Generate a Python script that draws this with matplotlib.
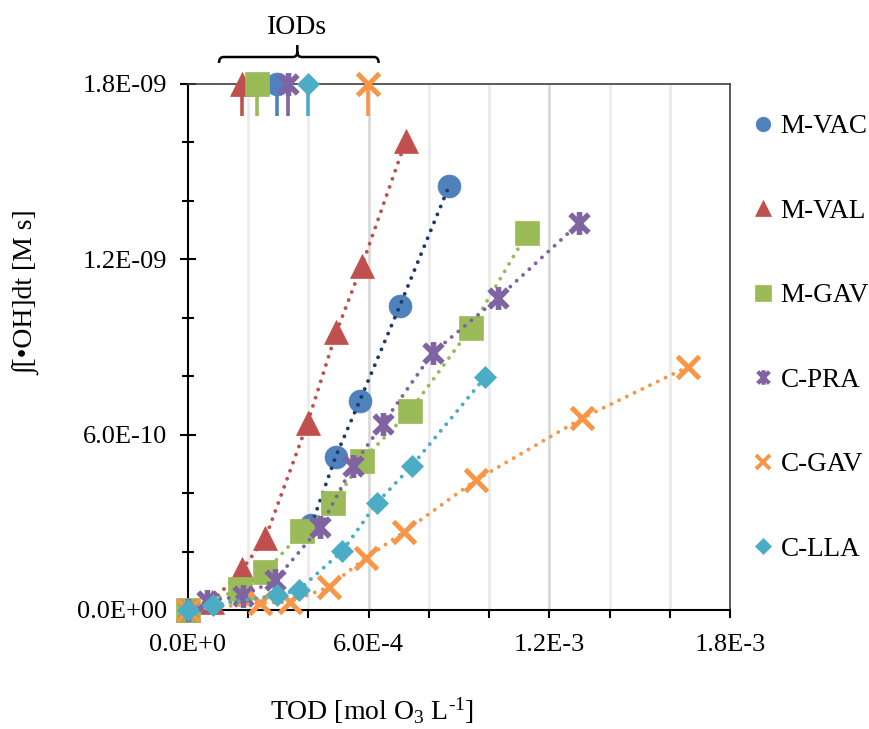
import matplotlib
matplotlib.use("Agg")
import matplotlib.pyplot as plt
from matplotlib.path import Path
from matplotlib.patches import PathPatch
from matplotlib.lines import Line2D
import matplotlib.transforms as mtransforms

plt.rcParams['font.family'] = ['Liberation Serif', 'DejaVu Serif']
plt.rcParams['mathtext.fontset'] = 'custom'
plt.rcParams['mathtext.rm'] = 'Liberation Serif'
plt.rcParams['mathtext.it'] = 'Liberation Serif:italic'

# ---------------- data ----------------
series_names = ["M-VAC", "M-VAL", "M-GAV", "C-PRA", "C-GAV", "C-LLA"]

mvac_x = [4.10e-4, 4.90e-4, 5.70e-4, 7.03e-4, 8.67e-4]
mvac_y = [2.91e-10, 5.24e-10, 7.15e-10, 1.040e-9, 1.451e-9]

mval_x = [0.0, 8.0e-5, 1.80e-4, 2.57e-4, 3.97e-4, 4.93e-4, 5.77e-4, 7.23e-4]
mval_y = [0.0, 2.7e-11, 1.40e-10, 2.46e-10, 6.40e-10, 9.52e-10, 1.177e-9, 1.605e-9]

mgav_x = [0.0, 1.73e-4, 2.57e-4, 3.80e-4, 4.83e-4, 5.77e-4, 7.37e-4, 9.40e-4, 1.127e-3]
mgav_y = [0.0, 7.2e-11, 1.30e-10, 2.70e-10, 3.66e-10, 5.10e-10, 6.81e-10, 9.65e-10, 1.29e-9]

cpra_x = [0.0, 6.3e-5, 1.83e-4, 2.90e-4, 4.40e-4, 5.47e-4, 6.47e-4, 8.13e-4, 1.03e-3, 1.30e-3]
cpra_y = [0.0, 3.1e-11, 4.8e-11, 1.03e-10, 2.84e-10, 4.93e-10, 6.37e-10, 8.80e-10, 1.068e-9, 1.325e-9]

cgav_x = [0.0, 2.40e-4, 3.40e-4, 4.67e-4, 5.90e-4, 7.17e-4, 9.57e-4, 1.31e-3, 1.66e-3]
cgav_y = [0.0, 2.4e-11, 2.7e-11, 7.9e-11, 1.78e-10, 2.67e-10, 4.45e-10, 6.57e-10, 8.32e-10]

clla_x = [0.0, 8.3e-5, 2.97e-4, 3.67e-4, 5.13e-4, 6.27e-4, 7.43e-4, 9.87e-4]
clla_y = [0.0, 1.7e-11, 5.1e-11, 6.8e-11, 2.02e-10, 3.66e-10, 4.93e-10, 7.97e-10]

# IOD values (TOD at which each series' IOD is reached)
iod_x = [2.97e-4, 1.80e-4, 2.30e-4, 3.33e-4, 5.97e-4, 3.97e-4]
iod_level = 1.8e-9
iod_stem_bottom = 1.69e-9

x_ticks = [0.0, 6.0e-4, 1.2e-3, 1.8e-3]
x_ticklabels = ["0.0E+0", "6.0E-4", "1.2E-3", "1.8E-3"]
y_ticks = [0.0, 6.0e-10, 1.2e-9, 1.8e-9]
y_ticklabels = ["0.0E+00", "6.0E-10", "1.2E-09", "1.8E-09"]

# ---------------- styles ----------------
star_path = Path([(-0.5, -0.5), (0.5, 0.5), (-0.5, 0.5), (0.5, -0.5), (0, -0.62), (0, 0.62)],
                 [Path.MOVETO, Path.LINETO, Path.MOVETO, Path.LINETO, Path.MOVETO, Path.LINETO])

colors = ["#4F81BD", "#C0504D", "#9BBB59", "#8064A2", "#F79646", "#4BACC6"]
line_colors = ["#1F3A66", "#C0504D", "#9BBB59", "#8064A2", "#F79646", "#4BACC6"]
markers = ["o", "^", "s", star_path, "x", "D"]
msizes = [16.5, 17, 17, 16.5, 15.5, 11.5]
mews = [0, 0, 0, 4.0, 3.6, 0]
leg_sizes = [10.5, 11, 11, 10.5, 10, 8]
leg_mews = [0, 0, 0, 3.0, 2.8, 0]

xs = [mvac_x, mval_x, mgav_x, cpra_x, cgav_x, clla_x]
ys = [mvac_y, mval_y, mgav_y, cpra_y, cgav_y, clla_y]

fig = plt.figure(figsize=(8.7, 7.29), dpi=100)
ax = fig.add_axes([188 / 870, 1 - 610 / 729, (730 - 188) / 870, (610 - 84) / 729])

ax.set_xlim(0, 1.8e-3)
ax.set_ylim(0, 1.8e-9)

# gridlines (vertical only)
for gx in [2e-4, 4e-4, 8e-4, 1.0e-3, 1.4e-3, 1.6e-3]:
    ax.axvline(gx, color="#EBEBEB", lw=2.0, zorder=0)
for gx in [6e-4, 1.2e-3]:
    ax.axvline(gx, color="#D9D9D9", lw=2.0, zorder=0)

for i, name in enumerate(series_names):
    c = colors[i]
    m = markers[i]
    base = 3 + 2 * i
    ax.plot(xs[i], ys[i], linestyle="none", marker=m, ms=msizes[i], mec=c, mfc=c,
            mew=mews[i] if mews[i] > 0 else 0.5, zorder=base, clip_on=False)
    ax.plot(xs[i], ys[i], linestyle=(0, (0.01, 2.2)), color=line_colors[i], lw=2.8,
            dash_capstyle="round", zorder=base + 1)

# IOD markers at the top
for i, name in enumerate(series_names):
    c = colors[i]
    ax.plot([iod_x[i], iod_x[i]], [iod_stem_bottom, iod_level], color=c, lw=2.6,
            zorder=20, clip_on=False, solid_capstyle="butt")
for i, name in enumerate(series_names):
    c = colors[i]
    ax.plot([iod_x[i]], [iod_level], linestyle="none", marker=markers[i], ms=msizes[i],
            mec=c, mfc=c, mew=mews[i] if mews[i] > 0 else 0.5, zorder=21, clip_on=False)

# spines
for s in ["left", "bottom"]:
    ax.spines[s].set_color("black")
    ax.spines[s].set_linewidth(1.5)
for s in ["top", "right"]:
    ax.spines[s].set_color("#404040")
    ax.spines[s].set_linewidth(1.2)

# ticks
ax.set_xticks(x_ticks)
ax.set_xticklabels(x_ticklabels)
ax.set_yticks(y_ticks)
ax.set_yticklabels(y_ticklabels)
ax.set_xticks([2e-4, 4e-4, 8e-4, 1.0e-3, 1.4e-3, 1.6e-3], minor=True)
ax.set_yticks([2e-10, 4e-10, 8e-10, 1.0e-9, 1.4e-9, 1.6e-9], minor=True)
ax.tick_params(axis="y", which="major", direction="inout", length=12, width=1.5, pad=9,
               labelsize=19)
ax.tick_params(axis="y", which="minor", direction="inout", length=9, width=1.5)
ax.tick_params(axis="x", which="major", direction="out", length=6, width=1.5, pad=11,
               labelsize=19)
ax.tick_params(axis="x", which="minor", direction="out", length=6, width=1.5)

# axis labels
fig.text(27 / 870, 1 - 293 / 729, "\u222B[\u2022OH]dt [M s]", rotation=90, ha="center",
         va="center", fontsize=20)
fig.text(372 / 870, 1 - 711 / 729, "TOD [mol O$_3$ L$^{\\text{-1}}$]", ha="center",
         va="center", fontsize=20)

# bracket "IODs"
trans = mtransforms.blended_transform_factory(ax.transData, ax.transAxes)
bx0, bx1, bxc = 1.03e-4, 6.33e-4, 3.63e-4
yb, ye, yt = 1.0513, 1.040, 1.074
dx = 0.15e-4
dy = 0.010
verts = [(bx0, ye), (bx0, yb), (bx0 + dx, yb), (bxc - dx, yb), (bxc, yb), (bxc, yb + dy),
         (bxc, yt), (bxc, yb + dy), (bxc, yb), (bxc + dx, yb), (bx1 - dx, yb), (bx1, yb), (bx1, ye)]
codes = [Path.MOVETO, Path.CURVE3, Path.CURVE3, Path.LINETO, Path.CURVE3, Path.CURVE3,
         Path.LINETO, Path.MOVETO, Path.CURVE3, Path.CURVE3, Path.LINETO, Path.CURVE3, Path.CURVE3]
br = PathPatch(Path(verts, codes), facecolor="none", edgecolor="black", lw=1.8,
               transform=trans, clip_on=False)
ax.add_patch(br)
ax.text(bxc, 1.1065, "IODs", transform=trans, ha="center", va="center", fontsize=20)

# legend
handles = []
for i, name in enumerate(series_names):
    c = colors[i]
    handles.append(Line2D([], [], linestyle="none", marker=markers[i], ms=leg_sizes[i],
                          mfc=c, mec=c, mew=leg_mews[i] if leg_mews[i] > 0 else 0.5))
leg = fig.legend(handles, series_names, loc="upper left", bbox_to_anchor=(752 / 870, 1 - 114 / 729),
                 frameon=False, fontsize=19.5, handlelength=0.8, handletextpad=0.25,
                 labelspacing=2.2, borderaxespad=0, borderpad=0)

fig.savefig("out.png", dpi=100)
